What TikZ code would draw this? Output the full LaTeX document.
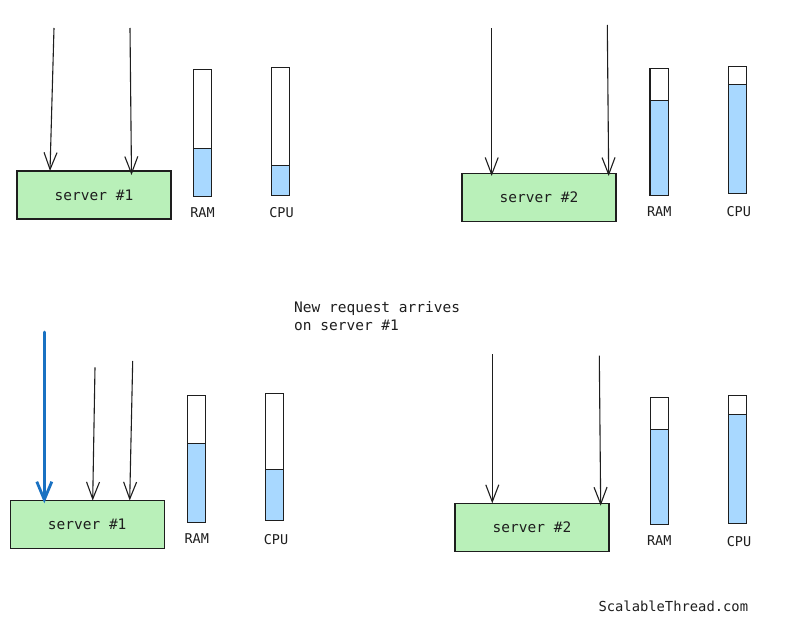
\documentclass[tikz,border=0pt]{standalone}
\usepackage{fontspec}
\setmonofont{DejaVu Sans Mono}
\usetikzlibrary{arrows.meta,fit}
\definecolor{ink}{HTML}{1E1E1E}
\definecolor{boxgreen}{HTML}{B9F0B9}
\definecolor{barblue}{HTML}{A8D8FF}
\definecolor{reqblue}{HTML}{1971C2}
\tikzset{
  server/.style={draw=ink, line width=1.1pt, fill=boxgreen, minimum width=154pt, minimum height=48pt, inner sep=0pt,
    font=\ttfamily\fontsize{14.5}{17}\selectfont, text=ink},
  barframe/.style={draw=ink, line width=1.1pt, inner sep=0pt},
  barlbl/.style={font=\ttfamily\fontsize{13.5}{16}\selectfont, text=ink, inner sep=0pt},
  note/.style={font=\ttfamily\fontsize{14.5}{17.7}\selectfont, text=ink, inner sep=0pt, align=left},
  req/.style={draw=ink, line width=1.1pt, -{Straight Barb[length=17pt,width=13pt,line width=1.1pt]}},
  newreq/.style={draw=reqblue, line width=2.8pt, line cap=round, -{Straight Barb[length=18pt,width=15pt,line width=2.8pt]}}
}
% name, x1, x2, top, bottom, boundary
\newcommand\drawbar[6]{%
  \fill[barblue] (#2,#6) rectangle (#3,#5);
  \draw[ink, line width=1.1pt] (#2,#6) -- (#3,#6);
  \node[barframe, fit={(#2,#4) (#3,#5)}] (#1) {};
}
\begin{document}
\begin{tikzpicture}[x=1pt,y=-1pt]
\useasboundingbox[fill=white] (0,0) rectangle (785,623);

% ---------- top left ----------
\node[server] (s1a) at (94,195) {server \#1};
\coordinate (a1s) at (54,28);  \coordinate (a1e) at (50,171);
\coordinate (a2s) at (130,28); \coordinate (a2e) at (131.5,175);
\draw[req] (a1s) -- (a1e);
\draw[req] (a2s) -- (a2e);
\drawbar{ram1a}{193.3}{211.7}{69.3}{196.7}{148.3}
\drawbar{cpu1a}{271.7}{289.7}{67.3}{195.7}{165.3}
\node[barlbl] (ram1al) at (202.5,212.5) {RAM};
\node[barlbl] (cpu1al) at (281.5,213) {CPU};

% ---------- top right ----------
\node[server] (s2a) at (539,197.5) {server \#2};
\coordinate (b1s) at (491.7,28.3); \coordinate (b1e) at (491.7,176);
\coordinate (b2s) at (607.3,25);   \coordinate (b2e) at (608.7,176);
\draw[req] (b1s) -- (b1e);
\draw[req] (b2s) -- (b2e);
\drawbar{ram2a}{650}{668.7}{68.3}{195.7}{100.3}
\drawbar{cpu2a}{728.7}{746.7}{66.3}{193.7}{84.3}
\node[barlbl] (ram2al) at (659.3,211.7) {RAM};
\node[barlbl] (cpu2al) at (738.7,212) {CPU};

% ---------- note ----------
\node[note, anchor=west] (note) at (294,316.2) {New request arrives\\on server \#1};

% ---------- bottom left ----------
\node[server] (s1b) at (87.2,524.5) {server \#1};
\coordinate (n0s) at (44.3,332); \coordinate (n0e) at (44.3,503.3);
\coordinate (c1s) at (95,367.3);  \coordinate (c1e) at (92.7,500.5);
\coordinate (c2s) at (132.7,361); \coordinate (c2e) at (129.7,500.5);
\draw[newreq] (n0s) -- (n0e);
\draw[req] (c1s) -- (c1e);
\draw[req] (c2s) -- (c2e);
\drawbar{ram1b}{187.7}{205.7}{395.3}{522.7}{443.7}
\drawbar{cpu1b}{265.7}{283.7}{393.3}{520.7}{469.7}
\node[barlbl] (ram1bl) at (196.7,538.3) {RAM};
\node[barlbl] (cpu1bl) at (276,539.3) {CPU};

% ---------- bottom right ----------
\node[server] (s2b) at (532,527.5) {server \#2};
\coordinate (d1s) at (492.3,354);   \coordinate (d1e) at (492.3,503.3);
\coordinate (d2s) at (599.3,355.7); \coordinate (d2e) at (600.7,505.7);
\draw[req] (d1s) -- (d1e);
\draw[req] (d2s) -- (d2e);
\drawbar{ram2b}{650.3}{668.7}{397.3}{524.3}{429.3}
\drawbar{cpu2b}{728.7}{746.7}{395.3}{523.3}{414.7}
\node[barlbl] (ram2bl) at (659.3,540.7) {RAM};
\node[barlbl] (cpu2bl) at (739,541.3) {CPU};

% ---------- footer ----------
\node[barlbl, font=\ttfamily\fontsize{13.8}{16}\selectfont] (brand) at (673.3,606.7) {ScalableThread.com};
\end{tikzpicture}
\end{document}
